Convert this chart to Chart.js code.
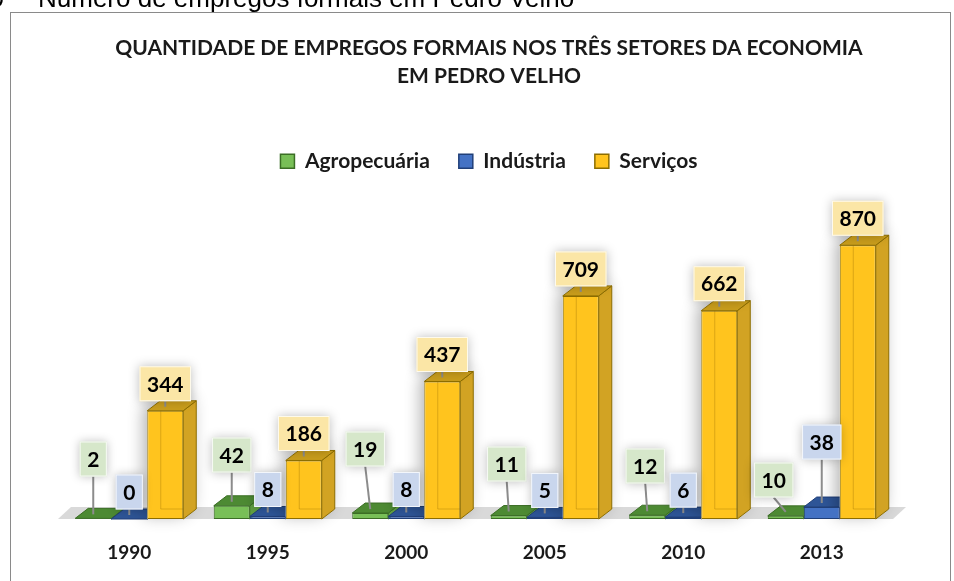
<!DOCTYPE html>
<html>
<head>
<meta charset="utf-8">
<script src="https://cdn.jsdelivr.net/npm/chart.js@4.4.1/dist/chart.umd.min.js"></script>
<style>
  html, body { margin: 0; padding: 0; background: #fff; overflow: hidden; }
  canvas { display: block; }
</style>
</head>
<body>
<canvas id="myChart" width="954" height="581"></canvas>
<script>
// values
const years = ["1990", "1995", "2000", "2005", "2010", "2013"];
const agropecuaria = [2, 42, 19, 11, 12, 10];
const industria = [0, 8, 8, 5, 6, 38];
const servicos = [344, 186, 437, 709, 662, 870];

// where the value boxes sit (Excel had them dragged by hand)
const agroLabelDx = [0, 0, -5, -2, -2, -12];
const agroLabelDy = [-60, -64, -70, -55, -53, -39];
const indLabelDy = [-27, -27, -27, -27, -27, -65];

const cxt = document.querySelector("#myChart");
const depthX = 13;
const depthY = 10;
const FONT = "Lato";

function barBox(bar) {
  const p = bar.getProps(["x", "y", "base", "width"], true);
  return {
    x: p.x,
    left: p.x - p.width / 2,
    right: p.x + p.width / 2,
    top: Math.min(p.y, p.base),
    base: p.base,
  };
}

// floor + top/side faces, drawn before the front faces
const depthPlugin = {
  id: "depth",
  beforeDraw(chart) {
    const ctx = chart.ctx;
    ctx.save();
    ctx.fillStyle = "#fff";
    ctx.fillRect(0, 0, chart.width, chart.height);
    // caption above the frame (cut off in the original)
    ctx.fillStyle = "#000";
    ctx.font = "26px 'Liberation Sans'";
    ctx.textBaseline = "alphabetic";
    ctx.textAlign = "right";
    ctx.fillText("0", 4, 6.5);
    ctx.textAlign = "left";
    ctx.fillText("Número de empregos formais em Pedro Velho", 38, 6.5);
    // frame
    ctx.strokeStyle = "#8a8a8a";
    ctx.lineWidth = 1;
    ctx.strokeRect(10.5, 12.5, 940, 600);
    ctx.restore();
  },
  beforeDatasetsDraw(chart) {
    const ctx = chart.ctx;
    const area = chart.chartArea;
    const base = chart.scales.y.getPixelForValue(0);
    ctx.save();
    // floor
    ctx.fillStyle = "#d9d9d9";
    ctx.beginPath();
    ctx.moveTo(area.left - 2, base);
    ctx.lineTo(area.left - 2 + depthX, base - depthY - 2);
    ctx.lineTo(area.right + 2 + depthX, base - depthY - 2);
    ctx.lineTo(area.right + 2, base);
    ctx.closePath();
    ctx.fill();

    chart.data.datasets.forEach((ds, di) => {
      const meta = chart.getDatasetMeta(di);
      meta.data.forEach((bar) => {
        const b = barBox(bar);
        if (ds.shadow) {
          ctx.save();
          ctx.shadowColor = "rgba(0,0,0,0.30)";
          ctx.shadowBlur = 16;
          ctx.shadowOffsetX = -4;
          ctx.shadowOffsetY = -3;
          ctx.fillStyle = "#fff";
          ctx.beginPath();
          ctx.moveTo(b.left, b.base);
          ctx.lineTo(b.left, b.top);
          ctx.lineTo(b.left + depthX, b.top - depthY);
          ctx.lineTo(b.right + depthX, b.top - depthY);
          ctx.lineTo(b.right + depthX, b.base - depthY);
          ctx.lineTo(b.right, b.base);
          ctx.closePath();
          ctx.fill();
          ctx.restore();
        }
        ctx.strokeStyle = ds.borderColor;
        ctx.lineWidth = 1;
        // side
        ctx.fillStyle = ds.sideColor;
        ctx.beginPath();
        ctx.moveTo(b.right, b.top);
        ctx.lineTo(b.right + depthX, b.top - depthY);
        ctx.lineTo(b.right + depthX, b.base - depthY);
        ctx.lineTo(b.right, b.base);
        ctx.closePath();
        ctx.fill();
        ctx.stroke();
        // top
        ctx.fillStyle = ds.topColor;
        ctx.beginPath();
        ctx.moveTo(b.left, b.top);
        ctx.lineTo(b.left + depthX, b.top - depthY);
        ctx.lineTo(b.right + depthX, b.top - depthY);
        ctx.lineTo(b.right, b.top);
        ctx.closePath();
        ctx.fill();
        ctx.stroke();
      });
    });
    ctx.restore();
  },
  afterDatasetsDraw(chart) {
    const ctx = chart.ctx;
    ctx.save();
    // hidden back edges seen through the yellow bars
    const meta = chart.getDatasetMeta(2);
    ctx.strokeStyle = "rgba(150,110,0,0.35)";
    ctx.lineWidth = 1;
    meta.data.forEach((bar) => {
      const b = barBox(bar);
      ctx.beginPath();
      ctx.moveTo(b.left + depthX + 0.5, b.top);
      ctx.lineTo(b.left + depthX + 0.5, b.base - depthY);
      ctx.lineTo(b.right, b.base - depthY);
      ctx.stroke();
    });

    // value boxes
    chart.data.datasets.forEach((ds, di) => {
      const m = chart.getDatasetMeta(di);
      m.data.forEach((bar, i) => {
        const b = barBox(bar);
        let cx = b.x;
        let cy;
        if (di === 0) {
          cx = b.x + agroLabelDx[i];
          cy = b.base + agroLabelDy[i];
        } else if (di === 1) {
          cy = b.top + indLabelDy[i];
        } else {
          cy = b.top - 27;
        }
        drawLabel(ctx, String(ds.data[i]), cx, cy, ds.labelColor, b);
      });
    });
    ctx.restore();
  },
};

function drawLabel(ctx, text, cx, cy, fill, b) {
  const h = 35;
  ctx.font = "bold 21px " + FONT;
  const w = ctx.measureText(text).width + 15;
  // leader line
  if (cy + h / 2 < b.top - 8) {
    ctx.strokeStyle = "#8c8c8c";
    ctx.lineWidth = 2;
    ctx.beginPath();
    ctx.moveTo(cx, cy + h / 2);
    ctx.lineTo(b.x, b.top - 4);
    ctx.stroke();
  }
  ctx.save();
  ctx.shadowColor = "rgba(0,0,0,0.25)";
  ctx.shadowBlur = 10;
  ctx.fillStyle = fill;
  ctx.fillRect(cx - w / 2, cy - h / 2, w, h);
  ctx.restore();
  ctx.strokeStyle = "rgba(255,255,255,0.8)";
  ctx.lineWidth = 1;
  ctx.strokeRect(cx - w / 2 + 0.5, cy - h / 2 + 0.5, w - 1, h - 1);
  ctx.fillStyle = "#000";
  ctx.textAlign = "center";
  ctx.textBaseline = "middle";
  ctx.fillText(text, cx, cy + 1);
}

const config = {
  type: "bar",
  data: {
    labels: years,
    datasets: [
      {
        label: "Agropecuária",
        data: agropecuaria,
        backgroundColor: "#78bf57",
        borderColor: "#3b6e25",
        topColor: "#4d8a33",
        sideColor: "#5f9e41",
        labelColor: "#d6e7ca",
        borderWidth: 1,
        borderSkipped: false,
      },
      {
        label: "Indústria",
        data: industria,
        backgroundColor: "#4472c4",
        borderColor: "#203f78",
        topColor: "#2e5597",
        sideColor: "#3761ad",
        labelColor: "#c9d6ed",
        borderWidth: 1,
        borderSkipped: false,
      },
      {
        label: "Serviços",
        data: servicos,
        backgroundColor: "#ffc41e",
        borderColor: "#8c6d00",
        topColor: "#c99d1c",
        sideColor: "#d2a323",
        labelColor: "#fbe6a6",
        shadow: true,
        borderWidth: 1,
        borderSkipped: false,
      },
    ],
  },
  options: {
    responsive: false,
    animation: false,
    events: [],
    layout: { padding: { top: 34, left: 60, right: 36, bottom: 17 } },
    categoryPercentage: 0.78,
    barPercentage: 1.0,
    plugins: {
      title: {
        display: true,
        text: ["QUANTIDADE DE EMPREGOS FORMAIS NOS TRÊS SETORES DA ECONOMIA", "EM PEDRO VELHO"],
        color: "#1a1a1a",
        font: { family: FONT, size: 21, weight: "bold", lineHeight: 1.35 },
        padding: { top: 0, bottom: 31 },
      },
      legend: {
        display: true,
        labels: {
          color: "#1a1a1a",
          font: { family: FONT, size: 21, weight: "bold" },
          boxWidth: 14,
          boxHeight: 14,
          padding: 29,
          generateLabels(chart) {
            const items = Chart.defaults.plugins.legend.labels.generateLabels(chart);
            items.forEach((it) => (it.lineWidth = 1.5));
            return items;
          },
        },
      },
      tooltip: { enabled: false },
    },
    scales: {
      x: {
        grid: { display: false, drawTicks: false },
        border: { display: false },
        ticks: {
          color: "#1a1a1a",
          font: { family: FONT, size: 19, weight: "bold" },
          padding: 22,
        },
        afterFit(scale) {
          scale.height = 45;
        },
      },
      y: {
        position: "right",
        beginAtZero: true,
        max: 1072,
        grid: { display: false },
        border: { display: false },
        ticks: { display: false },
        afterFit(scale) {
          scale.width = 27;
        },
      },
    },
  },
  plugins: [depthPlugin],
};

new Chart(cxt, config);
</script>
</body>
</html>
